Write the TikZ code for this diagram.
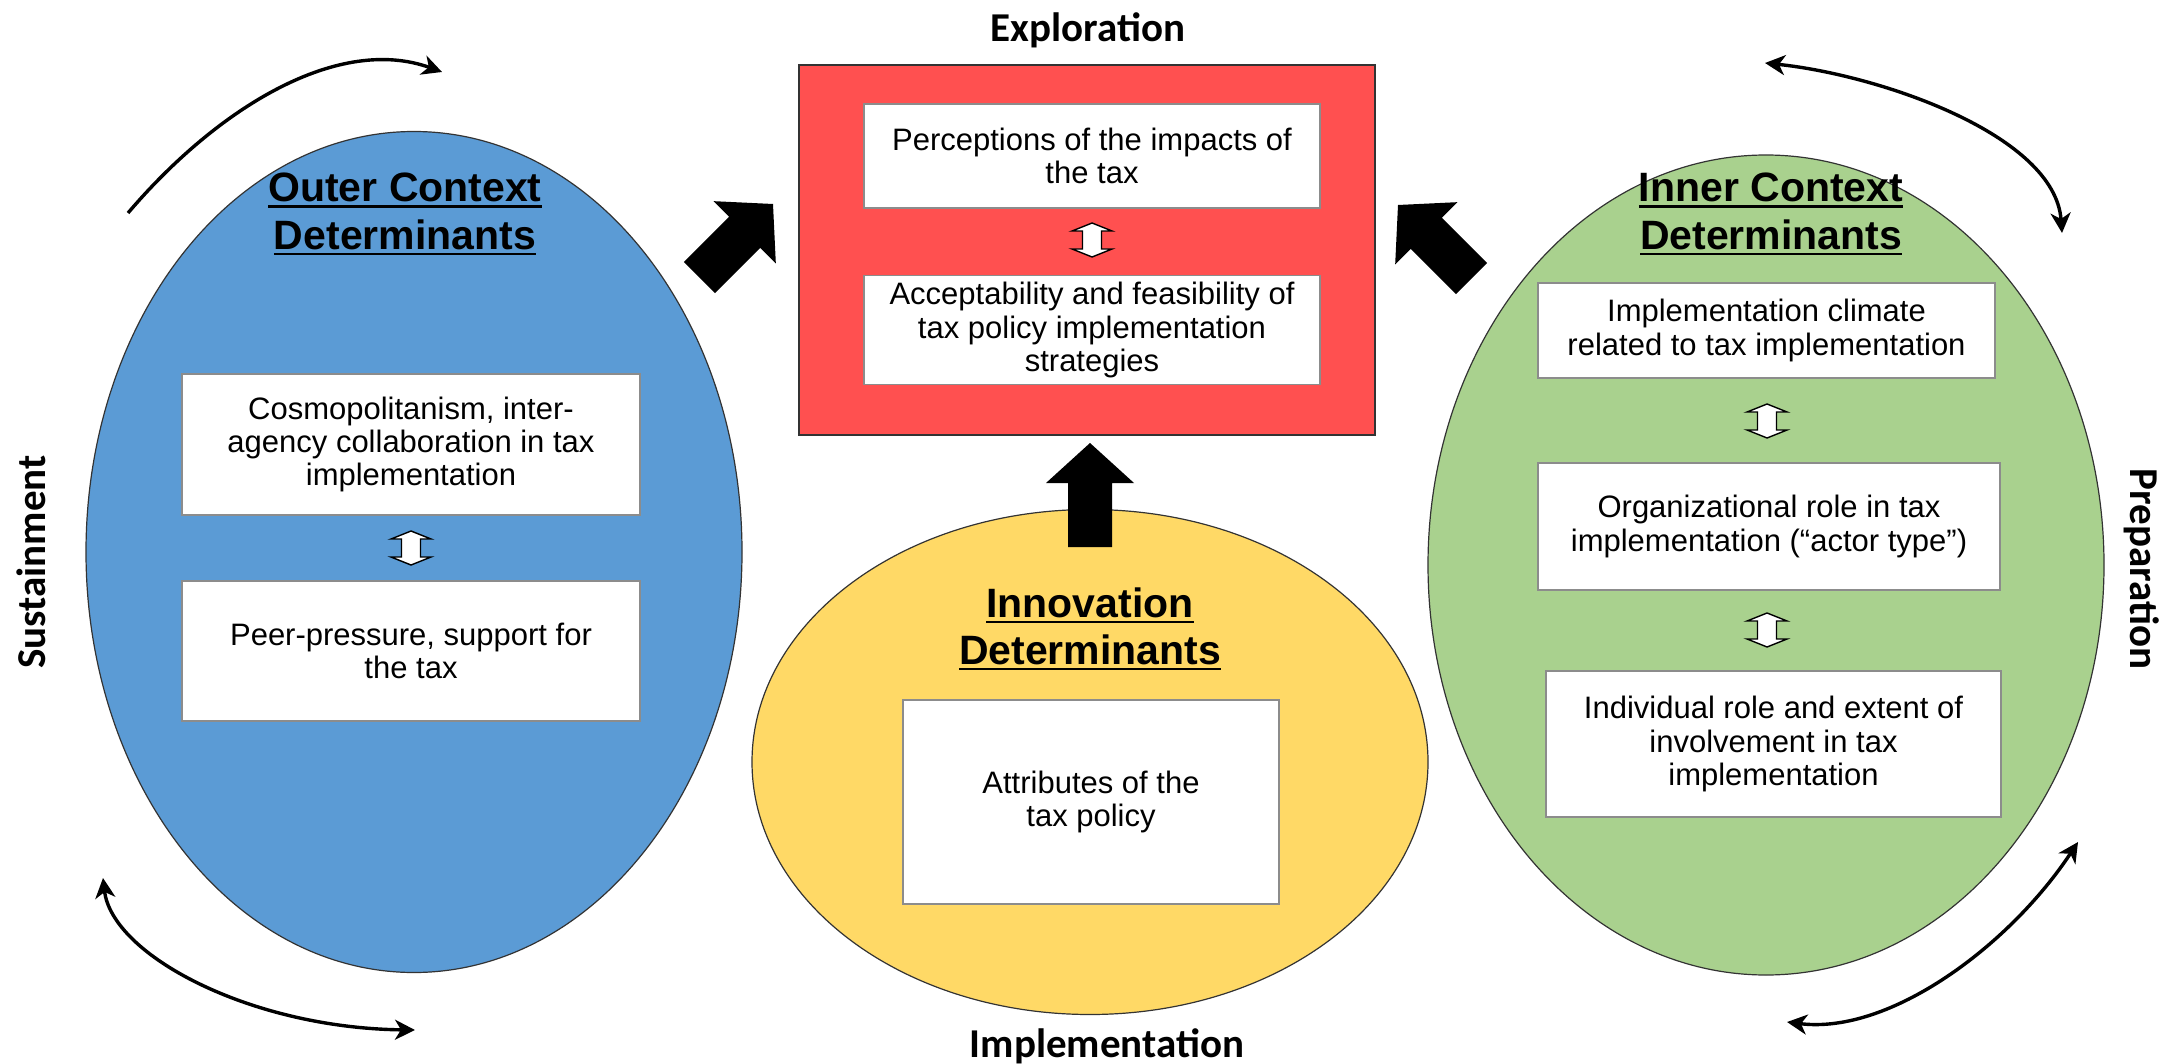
\documentclass[tikz,border=0pt]{standalone}
\usepackage{fontspec}
\setmainfont{Liberation Sans}
\newfontfamily\calib{Carlito}
\usetikzlibrary{shapes.geometric,arrows.meta}
\newcommand\hul[1]{\setbox0\hbox{#1}\rlap{\rule[-2.8pt]{\wd0}{1.1pt}}\box0}
\newcommand\blockarr[3]{\fill[black,shift={(#1,#2)},rotate=#3] (0,0) -- (44,40) -- (22,40) -- (22,104) -- (-22,104) -- (-22,40) -- (-44,40) -- cycle;}
\newcommand\dblarr[2]{\filldraw[fill=white,draw=black,line width=0.7pt,shift={(#1,#2)}] (0,-17) -- (20,-9) -- (9.5,-9) -- (9.5,9) -- (20,9) -- (0,17) -- (-20,9) -- (-9.5,9) -- (-9.5,-9) -- (-20,-9) -- cycle;}
\definecolor{cblue}{RGB}{91,155,213}
\definecolor{cgreen}{RGB}{169,209,142}
\definecolor{cyellow}{RGB}{255,217,102}
\definecolor{cred}{RGB}{255,80,80}
\tikzset{
  oval/.style={ellipse,draw=black!80,line width=0.6pt,inner sep=0pt},
  wbox/.style={draw=black!45,line width=0.6pt,fill=white,align=center,inner sep=2pt,font=\fontsize{15.5}{16.7}\selectfont},
  head/.style={align=center,font=\fontsize{20.5}{23.6}\selectfont\bfseries},
  phase/.style={font=\calib\fontsize{20.5}{24}\selectfont\bfseries},
  cyc/.style={line width=1.7pt,{Stealth[length=10pt,width=10pt,inset=3pt]}-{Stealth[length=10pt,width=10pt,inset=3pt]}},
  cycone/.style={line width=1.7pt,-{Stealth[length=10pt,width=10pt,inset=3pt]}}
}
\begin{document}
\begin{tikzpicture}[x=0.5pt,y=-0.5pt]
\useasboundingbox[fill=white] (0,0) rectangle (2178,1064);
% ellipses
\node[oval,fill=cblue,minimum width=328pt,minimum height=420.5pt] (outer) at (414,552) {};
\node[oval,fill=cgreen,minimum width=338pt,minimum height=410pt] (inner) at (1766,565) {};
\node[oval,fill=cyellow,minimum width=338pt,minimum height=252.5pt] (innov) at (1090,762) {};
\node[draw=black!80,line width=0.6pt,fill=cred,minimum width=288pt,minimum height=185pt,inner sep=0pt] (explo) at (1087,250) {};
% headings
\node[head] (outerh) at (405,214) {\hul{Outer Context}\\\hul{Determinants}};
\node[head] (innerh) at (1771,214) {\hul{Inner Context}\\\hul{Determinants}};
\node[head] (innovh) at (1090,629) {\hul{Innovation}\\\hul{Determinants}};
% boxes
\node[wbox,minimum width=228pt,minimum height=52pt] (r1) at (1092,156) {Perceptions of the impacts of\\the tax};
\node[wbox,minimum width=228pt,minimum height=54.5pt] (r2) at (1092,330) {Acceptability and feasibility of\\tax policy implementation\\strategies};
\node[wbox,minimum width=229pt,minimum height=70.5pt] (b1) at (411,444.5) {Cosmopolitanism, inter-\\agency collaboration in tax\\implementation};
\node[wbox,minimum width=229pt,minimum height=70pt] (b2) at (411,651) {Peer-pressure, support for\\the tax};
\node[wbox,minimum width=188pt,minimum height=102pt] (y1) at (1091,802) {Attributes of the\\tax policy};
\node[wbox,minimum width=228.5pt,minimum height=47.5pt] (g1) at (1766.5,330.5) {Implementation climate\\related to tax implementation};
\node[wbox,minimum width=231pt,minimum height=63.5pt] (g2) at (1769,526.5) {Organizational role in tax\\implementation (“actor type”)};
\node[wbox,minimum width=227.5pt,minimum height=73pt] (g3) at (1773.5,744) {Individual role and extent of\\involvement in tax\\implementation};
% small double arrows
\dblarr{1092}{240}
\dblarr{411}{548}
\dblarr{1767}{421}
\dblarr{1767}{630}
% big arrows
\blockarr{1090}{443}{0}
\blockarr{773}{204}{-45}
\blockarr{1398}{205}{45}
% phase labels
\node[phase] (lexp) at (1088,30) {Exploration};
\node[phase] (limp) at (1107,1046) {Implementation};
\node[phase,rotate=90] (lsus) at (31,562) {Sustainment};
\node[phase,rotate=-90] (lpre) at (2142,569) {Preparation};
% cycle arrows
\coordinate (tl1) at (128,213); \coordinate (tl2) at (442,72);
\coordinate (tr1) at (1765,63); \coordinate (tr2) at (2062,233);
\coordinate (bl1) at (103,878); \coordinate (bl2) at (415,1030);
\coordinate (br1) at (2078,842); \coordinate (br2) at (1787,1022);
\draw[cycone] (tl1) .. controls (220,105) and (340,35) .. (tl2);
\draw[cyc] (tr1) .. controls (1880,75) and (2055,135) .. (tr2);
\draw[cyc] (bl1) .. controls (112,955) and (250,1028) .. (bl2);
\draw[cyc] (br1) .. controls (2010,945) and (1890,1035) .. (br2);
\end{tikzpicture}
\end{document}
